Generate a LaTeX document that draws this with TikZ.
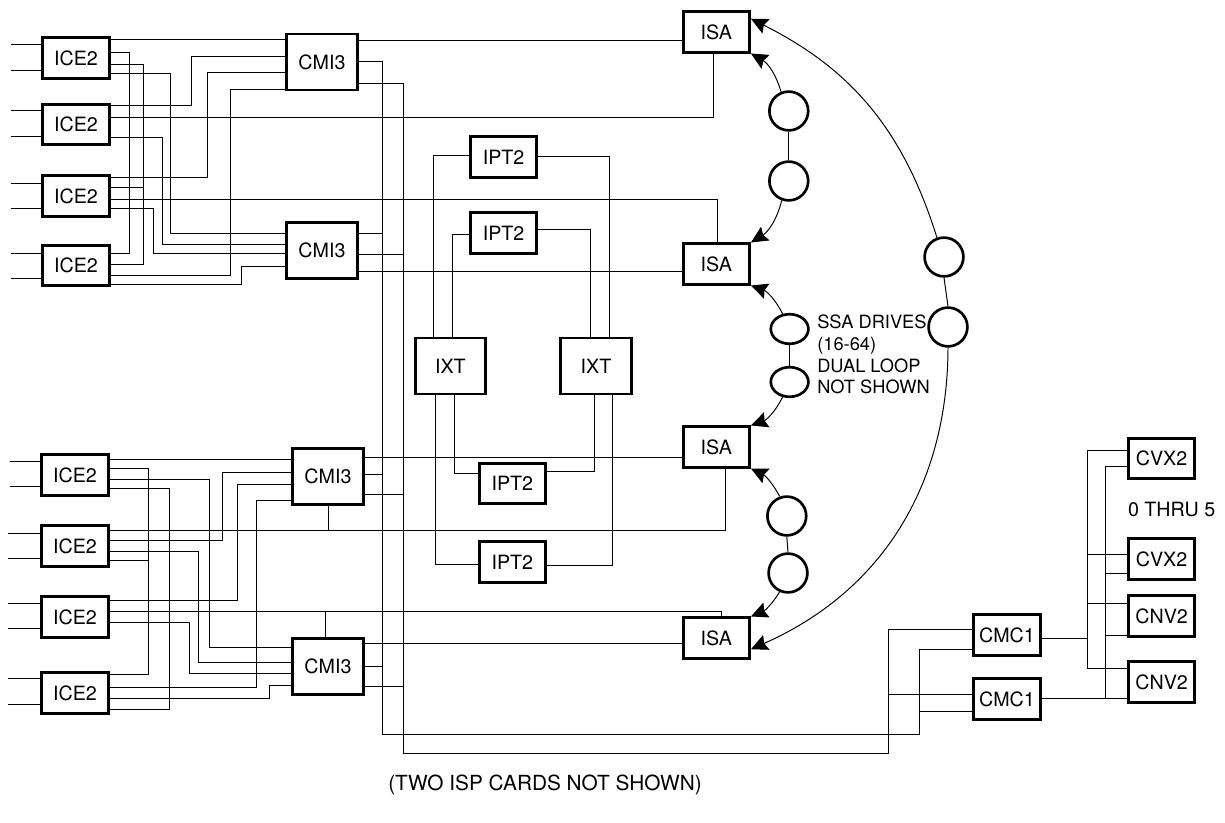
\documentclass[tikz,border=0pt]{standalone}
\usepackage{fontspec}
\setmainfont{TeX Gyre Heros}
\usetikzlibrary{arrows.meta, shapes.geometric}

\begin{document}
\begin{tikzpicture}[>={Stealth[length=0.42cm, width=0.4cm, inset=0.06cm]},
		card/.style={rectangle, draw=black, line width=1.9pt, minimum width=1.66cm, minimum height=1.01cm, inner sep=0pt, font=\fontsize{14}{16}\selectfont},
		hub/.style={card, minimum width=1.76cm, minimum height=1.4cm},
		drive/.style={circle, draw=black, line width=1.9pt, minimum size=0.97cm, inner sep=0pt},
		flatdrive/.style={ellipse, draw=black, line width=1.9pt, minimum width=0.94cm, minimum height=0.74cm, inner sep=0pt},
		wire/.style={line width=0.7pt},
		link/.style={->, line width=0.7pt},
		note/.style={font=\fontsize{14}{16}\selectfont}]
		
		\useasboundingbox (0,0) rectangle (30.625,20.55);
		
		% ICE2 top
		\node[card] (ice1) at (1.9, 19.1) {ICE2};
		\node[card] (ice2) at (1.9, 17.44) {ICE2};
		\node[card] (ice3) at (1.9, 15.65) {ICE2};
		\node[card] (ice4) at (1.9, 13.91) {ICE2};
		
		% ICE2 bottom
		\node[card] (ice5) at (1.875, 8.675) {ICE2};
		\node[card] (ice6) at (1.875, 6.9) {ICE2};
		\node[card] (ice7) at (1.875, 5.125) {ICE2};
		\node[card] (ice8) at (1.875, 3.225) {ICE2};
		
		% CMI3
		\node[hub] (cmi1) at (8.05, 19.0) {CMI3};
		\node[hub] (cmi2) at (8.05, 14.29) {CMI3};
		\node[hub] (cmi3) at (8.2, 8.64) {CMI3};
		\node[hub] (cmi4) at (8.2, 3.89) {CMI3};
		
		% IPT2 / IXT
		\node[card] (ipt1) at (12.59, 16.625) {IPT2};
		\node[card] (ipt2) at (12.59, 14.725) {IPT2};
		\node[card] (ipt3) at (12.81, 8.46) {IPT2};
		\node[card] (ipt4) at (12.81, 6.5) {IPT2};
		\node[hub] (ixt1) at (11.26, 11.4) {IXT};
		\node[hub] (ixt2) at (14.9, 11.4) {IXT};
		
		% ISA
		\node[card] (isa1) at (17.91, 19.75) {ISA};
		\node[card] (isa2) at (17.91, 13.95) {ISA};
		\node[card] (isa3) at (17.91, 9.375) {ISA};
		\node[card] (isa4) at (17.91, 4.6) {ISA};
		
		% Drives
		\node[drive] (drive1) at (19.72, 17.775) {};
		\node[drive] (drive2) at (19.72, 16.025) {};
		\node[flatdrive] (drive3) at (19.74, 12.325) {};
		\node[flatdrive] (drive4) at (19.74, 11.0) {};
		\node[drive] (drive5) at (19.67, 7.65) {};
		\node[drive] (drive6) at (19.7, 6.225) {};
		\node[drive] (drive7) at (23.6, 14.125) {};
		\node[drive] (drive8) at (23.7, 12.375) {};
		
		% CMC1 / CVX2 / CNV2
		\node[card] (cmc1) at (25.175, 4.675) {CMC1};
		\node[card] (cmc2) at (25.175, 3.075) {CMC1};
		\node[card] (cvx1) at (29.04, 9.09) {CVX2};
		\node[card] (cvx2) at (29.04, 6.575) {CVX2};
		\node[card] (cnv1) at (29.04, 5.15) {CNV2};
		\node[card] (cnv2) at (29.04, 3.5) {CNV2};
		
		% Notes
		\node[note] (range) at (29.29, 7.8) {0 THRU 5};
		\node[font=\fontsize{14.8}{17}\selectfont] (isp) at (13.625, 0.925) {(TWO ISP CARDS NOT SHOWN)};
		\node[anchor=west, align=left, inner sep=0pt, font=\fontsize{13}{15.6}\selectfont] (ssa) at (20.425, 11.69) {SSA DRIVES\\(16-64)\\DUAL LOOP\\NOT SHOWN};
		
		% Inputs
		\draw[wire] (ice1.west |- 0,19.425) -- ++(-0.75,0) (ice1.west |- 0,18.775) -- ++(-0.75,0);
		\draw[wire] (ice2.west |- 0,17.775) -- ++(-0.75,0) (ice2.west |- 0,17.125) -- ++(-0.75,0);
		\draw[wire] (ice3.west |- 0,15.975) -- ++(-0.75,0) (ice3.west |- 0,15.35) -- ++(-0.75,0);
		\draw[wire] (ice4.west |- 0,14.225) -- ++(-0.75,0) (ice4.west |- 0,13.6) -- ++(-0.75,0);
		\draw[wire] (ice5.west |- 0,9.025) -- ++(-0.75,0) (ice5.west |- 0,8.4) -- ++(-0.75,0);
		\draw[wire] (ice6.west |- 0,7.225) -- ++(-0.8,0) (ice6.west |- 0,6.6) -- ++(-0.8,0);
		\draw[wire] (ice7.west |- 0,5.475) -- ++(-0.8,0) (ice7.west |- 0,4.85) -- ++(-0.8,0);
		\draw[wire] (ice8.west |- 0,3.6) -- ++(-0.8,0) (ice8.west |- 0,2.95) -- ++(-0.8,0);
		
		% ICE2 to CMI3, top
		\draw[wire] (ice1.east |- 0,19.55) -- (cmi1.west |- 0,19.55);
		\draw[wire] (ice1.east |- 0,19.225) -| (3.225,14.225) -- (ice4.east |- 0,14.225);
		\draw[wire] (ice1.east |- 0,18.925) -| (3.575,13.95) -- (ice4.east |- 0,13.95) (3.575,15.875) -- (ice3.east |- 0,15.875);
		\draw[wire] (ice1.east |- 0,18.7) -| (4.25,14.725) -- (cmi2.west |- 0,14.725);
		\draw[wire] (ice2.east |- 0,17.9) -| (4.775,19.125) -- (cmi1.west |- 0,19.125);
		\draw[wire] (ice2.east |- 0,17.6) -| (17.825,0 |- isa1.south);
		\draw[wire] (ice2.east |- 0,17.1) -| (4.05,14.45) -- (cmi2.west |- 0,14.45);
		\draw[wire] (ice3.east |- 0,16.125) -| (5.175,18.725) -- (cmi1.west |- 0,18.725);
		\draw[wire] (ice3.east |- 0,15.575) -| (17.925,0 |- isa2.north);
		\draw[wire] (ice3.east |- 0,15.35) -| (3.825,14.225) -- (cmi2.west |- 0,14.225);
		\draw[wire] (ice4.east |- 0,13.675) -| (5.75,18.3) -- (cmi1.west |- 0,18.3);
		\draw[wire] (ice4.east |- 0,13.45) -| (6.025,13.9) -- (cmi2.west |- 0,13.9);
		
		% ICE2 to CMI3, bottom
		\draw[wire] (ice5.east |- 0,9.075) -- (cmi3.west |- 0,9.075);
		\draw[wire] (ice5.east |- 0,8.85) -| (3.7,3.7) -- (ice8.east |- 0,3.7) (3.7,6.55) -- (ice6.east |- 0,6.55);
		\draw[wire] (ice5.east |- 0,8.575) -| (5.225,4.375) -- (cmi4.west |- 0,4.375);
		\draw[wire] (ice5.east |- 0,8.35) -| (4.225,2.825) -- (ice8.east |- 0,2.825);
		\draw[wire] (ice6.east |- 0,7.3) -| (18.125,0 |- isa3.south) (cmi3.south) -- (cmi3.south |- 0,7.3);
		\draw[wire] (ice6.east |- 0,7.05) -| (5.55,8.75) -- (cmi3.west |- 0,8.75);
		\draw[wire] (ice6.east |- 0,6.775) -| (4.95,4.0) -- (cmi4.west |- 0,4.0);
		\draw[wire] (ice7.east |- 0,5.55) -| (5.925,8.45) -- (cmi3.west |- 0,8.45);
		\draw[wire] (ice7.east |- 0,5.275) -| (18.025,0 |- isa4.north) (8.125,0 |- cmi4.north) -- (8.125,5.275);
		\draw[wire] (ice7.east |- 0,5.0) -| (4.725,3.725) -- (cmi4.west |- 0,3.725);
		\draw[wire] (ice8.east |- 0,3.375) -| (6.4,8.05) -- (cmi3.west |- 0,8.05);
		\draw[wire] (ice8.east |- 0,3.1) -| (6.725,3.425) -- (cmi4.west |- 0,3.425);
		
		% CMI3 to ISA
		\draw[wire] (cmi1.east |- 0,19.525) -- (isa1.west |- 0,19.525);
		\draw[wire] (cmi2.east |- 0,13.775) -- (isa2.west |- 0,13.775);
		\draw[wire] (cmi3.east |- 0,9.125) -- (isa3.west |- 0,9.125);
		\draw[wire] (cmi4.east |- 0,4.475) -- (isa4.west |- 0,4.475);
		
		% Buses to CMC1
		\draw[wire] (cmi1.east |- 0,19.0) -| (9.55,2.2) -| (22.975,4.325) -- (cmc1.west |- 0,4.325) (22.975,2.775) -- (cmc2.west |- 0,2.775);
		\draw[wire] (cmi1.east |- 0,18.45) -| (10.075,1.725) -| (22.2,4.825) -- (cmc1.west |- 0,4.825) (22.2,3.2) -- (cmc2.west |- 0,3.2);
		\draw[wire] (cmi2.east |- 0,14.725) -- (9.55,14.725) (cmi3.east |- 0,8.7) -- (9.55,8.7) (cmi4.east |- 0,3.9) -- (9.55,3.9);
		\draw[wire] (cmi2.east |- 0,14.2) -- (10.075,14.2) (cmi3.east |- 0,8.2) -- (10.075,8.2) (cmi4.east |- 0,3.4) -- (10.075,3.4);
		
		% IPT2 to IXT
		\draw[wire] (ipt1.west |- 0,16.675) -| (10.825,0 |- ixt1.north);
		\draw[wire] (ipt1.east |- 0,16.65) -| (15.225,0 |- ixt2.north);
		\draw[wire] (ipt2.west |- 0,14.7) -| (11.3,0 |- ixt1.north);
		\draw[wire] (ipt2.east |- 0,14.825) -| (14.75,0 |- ixt2.north);
		\draw[wire] (10.875,0 |- ixt1.south) |- (ipt4.west |- 0,6.45);
		\draw[wire] (11.35,0 |- ixt1.south) |- (ipt3.west |- 0,8.725);
		\draw[wire] (14.85,0 |- ixt2.south) |- (ipt3.east |- 0,8.775);
		\draw[wire] (15.3,0 |- ixt2.south) |- (ipt4.east |- 0,6.425);
		
		% Drive loops
		\draw[wire] (drive1.south) -- (drive2.north);
		\draw[wire] (drive3.south) -- (drive4.north);
		\draw[wire] (drive5.south) -- (drive6.north);
		\draw[wire] (drive7.south) -- (drive8.north);
		\draw[link] (drive1.112) to[bend right=22] (isa1.south east);
		\draw[link] (drive2.250) to[bend left=22] (isa2.north east);
		\draw[link] (drive3.115) to[bend right=22] (isa2.south east);
		\draw[link] (drive4.245) to[bend left=22] (isa3.north east);
		\draw[link] (drive5.110) to[bend right=18] (isa3.south east);
		\draw[link] (drive6.246) to[bend left=18] (isa4.north east);
		\draw[link] (drive7.110) to[bend right=23] (isa1.21);
		\draw[link] (drive8.south) to[bend left=33] (isa4.-18);
		
		% CMC1 to CVX2 / CNV2
		\draw[wire] (cvx1.west |- 0,9.3) -| (27.175,3.85) -- (cnv2.west |- 0,3.85) (27.175,6.7) -- (cvx2.west |- 0,6.7) (27.175,5.475) -- (cnv1.west |- 0,5.475) (27.175,4.6) -- (cmc1.east |- 0,4.6);
		\draw[wire] (cvx1.west |- 0,8.9) -| (27.625,3.1) (27.625,6.225) -- (cvx2.west |- 0,6.225) (27.625,4.675) -- (cnv1.west |- 0,4.675);
		\draw[wire] (cmc2.east |- 0,3.1) -- (cnv2.west |- 0,3.1);
		
	\end{tikzpicture}
\end{document}
